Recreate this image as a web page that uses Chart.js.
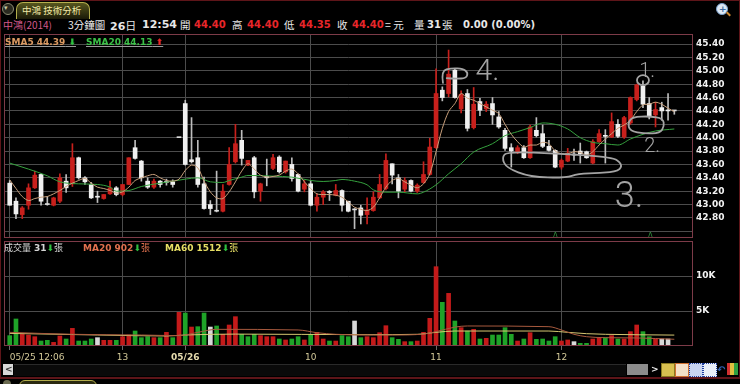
<!DOCTYPE html>
<html lang="zh-Hant">
<head>
<meta charset="UTF-8">
<meta name="viewport" content="width=device-width, initial-scale=1.0">
<title>中鴻 技術分析</title>
<script src="https://cdn.jsdelivr.net/npm/chart.js"></script>
<style>
  html, body { margin: 0; padding: 0; background: #000; }
  body { width: 740px; height: 384px; position: relative; overflow: hidden; font-family: "DejaVu Sans", sans-serif; color: #e8e8e8; }
  .abs { position: absolute; white-space: nowrap; line-height: 14px; }
  .cjk { font-family: "Noto Sans CJK TC", sans-serif; }
  .num { font-family: "DejaVu Sans", sans-serif; font-weight: bold; }
  .red { color: #e8262a; }
  canvas { position: absolute; left: 0; }
  .legend { font-family: "DejaVu Sans", sans-serif; font-weight: bold; font-size: 9px; text-decoration: underline; text-decoration-color: #9a9a9a; }
</style>
</head>
<body>
  <!-- outer frame -->
  <div class="abs" style="left:0;top:0;width:738px;height:376px;border:1px solid #5e1519;border-bottom:none"></div>
  <div class="abs" style="left:0;top:377px;width:740px;height:2px;background:#5e1519"></div>

  <!-- title tab -->
  <div class="abs" style="left:2px;top:3px;width:10px;height:10px;border-radius:50%;border:1px solid #8a8a70;background:#2a2a20"></div>
  <div class="abs" style="left:4px;top:1px;font-size:7px;color:#c8c8a0">▾</div>
  <div class="abs" style="left:16px;top:2px;width:72px;height:16px;border:1px solid #b4ae4c;border-bottom:none;border-radius:7px 7px 0 0;background:linear-gradient(#56561e,#1a1a08)"></div>
  <div class="abs cjk" style="left:22px;top:3px;font-size:9.5px;color:#f2eaa8">中鴻 技術分析</div>
  <div class="abs" style="left:716px;top:3px;width:10px;height:10px;border-radius:50%;border:1px solid #7aa0cc;background:#dce8f4"></div>
  <div class="abs" style="left:719px;top:2px;font-size:9px;font-weight:bold;color:#3a6aa0">+</div>
  <div class="abs" style="left:726px;top:13px;width:5px;height:2px;background:#d08a30;transform:rotate(45deg)"></div>

  <!-- info line -->
  <div class="abs cjk" style="left:3px;top:18px;font-size:10px;color:#d0588a">中鴻(2014)</div>
  <div class="abs cjk" style="left:68px;top:18px;font-size:10.5px">3分鐘圖</div>
  <div class="abs" style="left:110px;top:18px;font-size:11px"><span class="num">26</span><span class="cjk">日</span></div>
  <div class="abs num" style="left:142px;top:18px;font-size:11px">12:54</div>
  <div class="abs cjk" style="left:180px;top:18px;font-size:10.5px">開</div>
  <div class="abs num red" style="left:194px;top:18px;font-size:10px">44.40</div>
  <div class="abs cjk" style="left:232px;top:18px;font-size:10.5px">高</div>
  <div class="abs num red" style="left:247px;top:18px;font-size:10px">44.40</div>
  <div class="abs cjk" style="left:284px;top:18px;font-size:10.5px">低</div>
  <div class="abs num red" style="left:299px;top:18px;font-size:10px">44.35</div>
  <div class="abs cjk" style="left:337px;top:18px;font-size:10.5px">收</div>
  <div class="abs num red" style="left:352px;top:18px;font-size:10px">44.40</div>
  <div class="abs cjk" style="left:385px;top:18px;font-size:10.5px">= 元</div>
  <div class="abs cjk" style="left:414px;top:18px;font-size:10.5px">量</div>
  <div class="abs num" style="left:427px;top:18px;font-size:10px">31</div>
  <div class="abs cjk" style="left:442px;top:18px;font-size:10.5px">張</div>
  <div class="abs num" style="left:463px;top:18px;font-size:10px">0.00 (0.00%)</div>

  <canvas id="price" width="740" height="210" style="top:30px"></canvas>
  <canvas id="volume" width="740" height="130" style="top:238px"></canvas>

  <!-- price legend -->
  <div class="abs legend" style="left:5px;top:35px;color:#dc9a62">SMA5 44.39<span style="color:#2fc040;text-decoration:none"> ⬇</span></div>
  <div class="abs legend" style="left:86px;top:35px;color:#3cc048">SMA20 44.13<span style="color:#e82828"> ⬆</span></div>
  <div class="abs" style="left:553px;top:228px;font-size:8px;color:#2e8a3a">ʌ</div>
  <div class="abs" style="left:648px;top:228px;font-size:8px;color:#2e8a3a">ʌ</div>

  <!-- volume legend -->
  <div class="abs" style="left:4px;top:241px;font-size:9px;color:#d4d4d4"><span class="cjk">成交量</span> <span class="num">31</span><span style="color:#2fc040">⬇</span><span class="cjk">張</span></div>
  <div class="abs" style="left:83px;top:241px;font-size:9px;color:#e0704e"><span class="num">MA20 902</span><span style="color:#2fc040">⬇</span><span class="cjk">張</span></div>
  <div class="abs" style="left:165px;top:241px;font-size:9px;color:#e6de64"><span class="num">MA60 1512</span><span style="color:#2fc040">⬇</span><span class="cjk">張</span></div>

  <!-- scroll bar and tool icons -->
  <div class="abs" style="left:3px;top:364px;width:10px;height:11px;background:#d8d8d8"></div>
  <div class="abs" style="left:5px;top:362px;font-size:9px;font-weight:bold;color:#333">&lt;</div>
  <div class="abs" style="left:14px;top:364px;width:612px;height:11px;background:#0a0a0a;border-top:1px solid #2a2a2a"></div>
  <div class="abs" style="left:627px;top:364px;width:21px;height:11px;background:#8c8c8c"></div>
  <div class="abs" style="left:651px;top:362px;font-size:9px;font-weight:bold;color:#eee">&gt;</div>
  <div class="abs" style="left:661px;top:363px;width:12px;height:12px;background:#d8c050;border:1px solid #8a7a20"></div>
  <div class="abs" style="left:675px;top:363px;width:12px;height:12px;background:#f4e0c8;border:1px solid #d07030"></div>
  <div class="abs" style="left:689px;top:363px;width:12px;height:12px;background:#c8d4f0;border:1px dotted #2040a0"></div>
  <div class="abs" style="left:703px;top:363px;width:12px;height:12px;background:#e8eef8;border:1px dotted #2040a0"></div>
  <div class="abs" style="left:717px;top:363px;width:8px;height:12px;color:#3060b0;font-size:10px;font-weight:bold">↶</div>
  <div class="abs" style="left:727px;top:363px;width:11px;height:12px;background:linear-gradient(90deg,#d03030 0 30%,#e0c040 30% 60%,#30a040 60%)"></div>

  <!-- next tab row -->
  <div class="abs" style="left:3px;top:380px;width:8px;height:8px;border-radius:50%;background:#6a6a50"></div>
  <div class="abs" style="left:19px;top:380px;width:76px;height:8px;border:1px solid #b4ae4c;border-radius:6px 6px 0 0;background:#2a2a10"></div>

<script>
// 3-minute bars, 05/25 12:06 .. 05/26 12:54 (index 0..106)
const xTickIdx = [0, 18, 28, 48, 68, 88, 106];
const xTickText = ['05/25 12:06', '13', '05/26', '10', '11', '12', ''];
const priceTicks = [42.6, 42.8, 43.0, 43.2, 43.4, 43.6, 43.8, 44.0, 44.2, 44.4, 44.6, 44.8, 45.0, 45.2, 45.4];
const volTicks = [5000, 10000];

const open = [
  43.32, 43.05, 42.85, 42.99, 43.25, 43.45, 43.00, 42.99, 43.05, 43.35,
  43.31, 43.70, 43.40, 43.30, 43.12, 43.09, 43.16, 43.25, 43.15, 43.30,
  43.85, 43.65, 43.35, 43.26, 43.35, 43.33, 43.34, 44.00, 44.51, 43.67,
  43.70, 43.31, 43.00, 42.90, 42.90, 43.30, 43.64, 43.96, 43.59, 43.70,
  43.20, 43.42, 43.54, 43.71, 43.49, 43.60, 43.45, 43.23, 43.31, 42.99,
  43.11, 43.19, 43.14, 43.21, 43.05, 42.92, 42.95, 42.85, 42.91, 43.10,
  43.24, 43.61, 43.40, 43.23, 43.36, 43.20, 43.33, 43.45, 43.85, 44.71,
  44.66, 45.01, 44.43, 44.66, 44.15, 44.54, 44.43, 44.51, 44.31, 44.11,
  43.85, 43.78, 43.85, 43.70, 44.11, 44.06, 43.87, 43.81, 43.56, 43.65,
  43.75, 43.80, 43.79, 43.62, 43.94, 44.03, 44.01, 44.20, 44.01, 44.22,
  44.57, 44.77, 44.51, 44.34, 44.45, 44.41, 44.40
];
const high = [
  43.36, 43.10, 42.97, 43.31, 43.50, 43.46, 43.12, 43.11, 43.46, 43.45,
  43.91, 43.71, 43.42, 43.33, 43.20, 43.15, 43.35, 43.27, 43.30, 43.70,
  43.96, 43.66, 43.40, 43.38, 43.36, 43.38, 43.37, 44.00, 44.56, 44.30,
  43.96, 43.41, 43.06, 43.50, 43.30, 43.85, 44.20, 44.11, 43.66, 43.72,
  43.32, 43.68, 43.75, 43.73, 43.65, 43.70, 43.46, 43.36, 43.36, 43.16,
  43.21, 43.21, 43.30, 43.22, 43.05, 42.94, 42.99, 43.10, 43.19, 43.45,
  43.76, 43.61, 43.45, 43.40, 43.37, 43.31, 43.64, 43.99, 45.03, 44.76,
  45.31, 45.03, 44.70, 44.72, 44.75, 44.59, 44.54, 44.60, 44.39, 44.14,
  43.91, 43.88, 43.88, 44.19, 44.30, 44.19, 43.96, 43.82, 43.68, 43.84,
  43.83, 43.92, 43.80, 43.97, 44.12, 44.12, 44.37, 44.27, 44.32, 44.61,
  44.80, 44.85, 44.60, 44.53, 44.53, 44.66, 44.40
];
const low = [
  42.99, 42.79, 42.79, 42.93, 43.24, 42.99, 42.99, 42.98, 43.03, 43.18,
  43.27, 43.38, 43.30, 43.09, 43.03, 43.08, 43.15, 43.13, 43.13, 43.30,
  43.68, 43.35, 43.24, 43.24, 43.26, 43.29, 43.26, 44.00, 43.59, 43.62,
  43.26, 42.93, 42.85, 42.89, 42.89, 43.29, 43.62, 43.59, 43.58, 43.10,
  43.05, 43.28, 43.52, 43.47, 43.47, 43.35, 43.19, 43.19, 42.98, 42.90,
  43.00, 43.06, 43.13, 42.90, 42.89, 42.64, 42.71, 42.71, 42.90, 43.09,
  43.22, 43.31, 43.10, 43.19, 43.19, 43.18, 43.32, 43.44, 43.84, 44.55,
  44.61, 44.59, 44.37, 44.10, 44.13, 44.33, 44.39, 44.20, 44.14, 43.81,
  43.56, 43.76, 43.69, 43.69, 44.01, 43.85, 43.80, 43.55, 43.53, 43.64,
  43.66, 43.62, 43.69, 43.61, 43.93, 43.62, 44.00, 44.00, 43.99, 44.20,
  44.55, 44.45, 44.28, 44.16, 44.26, 44.26, 44.35
];
const close = [
  42.99, 42.86, 42.95, 43.25, 43.44, 43.05, 43.00, 43.10, 43.40, 43.25,
  43.70, 43.40, 43.34, 43.10, 43.11, 43.15, 43.25, 43.15, 43.30, 43.70,
  43.69, 43.40, 43.26, 43.35, 43.30, 43.33, 43.30, 44.00, 43.60, 43.64,
  43.30, 42.94, 42.94, 42.90, 43.20, 43.60, 43.91, 43.69, 43.66, 43.19,
  43.31, 43.40, 43.70, 43.49, 43.65, 43.39, 43.20, 43.31, 42.99, 43.11,
  43.19, 43.18, 43.21, 42.99, 42.90, 42.92, 42.84, 42.92, 43.11, 43.30,
  43.66, 43.44, 43.20, 43.36, 43.20, 43.29, 43.45, 43.86, 44.66, 44.60,
  44.95, 44.60, 44.65, 44.14, 44.50, 44.41, 44.50, 44.34, 44.16, 43.84,
  43.80, 43.85, 43.70, 44.16, 44.03, 43.87, 43.81, 43.56, 43.66, 43.77,
  43.74, 43.76, 43.70, 43.94, 44.06, 44.02, 44.24, 44.02, 44.30, 44.60,
  44.79, 44.50, 44.32, 44.42, 44.40, 44.40, 44.40
];
const sma5 = [
  43.37, 43.24, 43.12, 43.06, 43.09, 43.11, 43.12, 43.16, 43.21, 43.27,
  43.32, 43.36, 43.39, 43.32, 43.26, 43.24, 43.21, 43.17, 43.19, 43.26,
  43.36, 43.40, 43.43, 43.45, 43.40, 43.36, 43.35, 43.38, 43.51, 43.59,
  43.55, 43.35, 43.19, 43.10, 43.09, 43.19, 43.34, 43.50, 43.61, 43.53,
  43.44, 43.41, 43.42, 43.44, 43.50, 43.53, 43.46, 43.34, 43.24, 43.16,
  43.15, 43.15, 43.14, 43.11, 43.04, 42.96, 42.93, 42.91, 42.96, 43.10,
  43.26, 43.36, 43.39, 43.34, 43.29, 43.25, 43.31, 43.46, 43.79, 44.14,
  44.39, 44.51, 44.66, 44.59, 44.56, 44.51, 44.46, 44.41, 44.36, 44.20,
  44.05, 43.94, 43.86, 43.89, 43.89, 43.93, 43.91, 43.80, 43.76, 43.76,
  43.79, 43.78, 43.74, 43.79, 43.89, 43.98, 44.06, 44.14, 44.19, 44.26,
  44.39, 44.49, 44.50, 44.53, 44.50, 44.44, 44.39
];
// [bar, value]
const sma20 = [
  [0, 43.62], [3, 43.53], [6, 43.43], [8, 43.34], [11, 43.31], [14, 43.30], [16, 43.26],
  [17, 43.20], [19, 43.21], [21, 43.27], [24, 43.32], [26, 43.35], [28, 43.38], [30, 43.40],
  [32, 43.34], [34, 43.33], [35, 43.36], [37, 43.41], [38, 43.435], [42, 43.425], [45, 43.41],
  [48, 43.36], [50, 43.345], [52, 43.36], [53, 43.375], [55, 43.35], [57, 43.295], [58, 43.22],
  [60, 43.185], [62, 43.185], [65, 43.16], [66, 43.185], [68, 43.295], [70, 43.46], [72, 43.61],
  [74, 43.785], [77, 43.91], [79, 44.03], [81, 44.09], [83, 44.15], [85, 44.22], [87, 44.20],
  [89, 44.13], [91, 44.00], [93, 43.93], [95, 43.91], [97, 43.89], [99, 43.98], [101, 44.05],
  [103, 44.10], [106, 44.13]
];

const volume = [
  1480, 3860, 1670, 1570, 1330, 710, 810, 520, 1430, 1000,
  2520, 710, 710, 1000, 1190, 810, 810, 810, 1330, 1570,
  2140, 1190, 1330, 1190, 1190, 1950, 1190, 4810, 4710, 2710,
  2760, 4710, 2710, 2860, 1670, 3000, 4190, 1670, 1330, 1670,
  1480, 1330, 1330, 1000, 860, 1000, 1330, 860, 1670, 1950,
  1000, 710, 710, 1480, 1330, 3570, 1190, 1330, 1190, 1900,
  2900, 1190, 950, 620, 620, 710, 1950, 3950, 11330, 6240,
  7520, 3570, 2620, 2140, 2380, 1000, 1100, 1570, 1570, 2620,
  1670, 710, 1000, 1900, 950, 1000, 710, 1330, 710, 860,
  620, 380, 380, 1000, 1100, 1190, 1480, 1000, 1000, 2050,
  3000, 2050, 1330, 1000, 1000, 1000, 31
];
// 1 = up vs previous close, -1 = down, 0 = unchanged
const volDir = [
  -1, -1, 1, 1, 1, -1, -1, 1, 1, -1,
  1, -1, -1, -1, 0, 1, 1, -1, 1, 1,
  -1, -1, -1, 1, -1, 1, -1, 1, -1, 1,
  -1, -1, 0, -1, 1, 1, 1, -1, -1, -1,
  1, 1, 1, -1, 1, -1, -1, 1, -1, 1,
  1, -1, 1, -1, -1, 0, -1, 1, 1, 1,
  1, -1, -1, 1, -1, 1, 1, 1, 1, -1,
  1, -1, 1, -1, 1, -1, 1, -1, -1, -1,
  -1, 1, -1, 1, -1, -1, -1, -1, 1, 1,
  0, -1, -1, 1, 1, -1, 1, -1, 1, 1,
  1, -1, -1, 1, 0, 0, 0
];
const volMa20 = [
  [0, 1950], [10, 1670], [21, 1570], [27, 1480], [30, 1950], [33, 2380], [46, 2290],
  [49, 1900], [52, 1670], [58, 1570], [61, 1570], [66, 1700], [68, 2050], [71, 2700],
  [73, 2860], [86, 2760], [88, 2290], [90, 1670], [92, 1330], [95, 1190], [100, 1150], [106, 960]
];
const volMa60 = [
  [0, 1800], [14, 1570], [25, 1430], [28, 1570], [36, 1700], [57, 1620], [65, 1670],
  [68, 1950], [71, 2140], [86, 2140], [89, 1950], [92, 1760], [95, 1670], [106, 1560]
];

// handwritten marks on the screenshot, in (bar, price) units
const sketchText = [['4.', 74.3, 44.86, 30], ['1.', 100.4, 44.90, 20], ['2.', 101.2, 43.78, 20], ['3.', 96.5, 42.97, 36]];
const sketchBracket = [[69.1, 44.82], [68.8, 45.00], [70.5, 45.04], [72.3, 45.03], [73.1, 44.97], [72.8, 44.89], [71.2, 44.88], [69.7, 44.89]];
const sketchLoop2 = [[104.2, 44.29], [102.1, 44.32], [99.3, 44.31], [98.6, 44.22], [98.9, 44.10], [101.3, 44.06], [103.7, 44.07], [104.4, 44.17]];
const sketchLoop3 = [[79.3, 43.79], [87.8, 43.76], [96.1, 43.71], [97.7, 43.61], [97.2, 43.50], [94.2, 43.47], [90.6, 43.46], [88.7, 43.40], [83.0, 43.41], [79.2, 43.55], [78.5, 43.70]];
const sketchCircle = [101, 44.86];

const RED = '#c8201c', WHITE = '#f0f0f0', GRID = '#4c4c4c', FRAME = '#7d3b48';
const X_MIN = -0.91, X_MAX = 108.98;

const frame = {
  id: 'frame',
  afterDraw(chart) {
    const { ctx, chartArea: a } = chart;
    ctx.save();
    ctx.strokeStyle = FRAME;
    ctx.lineWidth = 1;
    ctx.strokeRect(a.left + 0.5, a.top + 0.5, a.right - a.left - 1, a.bottom - a.top - 1);
    ctx.restore();
  }
};

function smoothPath(ctx, pts, closed) {
  const mid = (a, b) => [(a[0] + b[0]) / 2, (a[1] + b[1]) / 2];
  const n = pts.length;
  ctx.beginPath();
  if (closed) {
    const m = mid(pts[n - 1], pts[0]);
    ctx.moveTo(m[0], m[1]);
    for (let i = 0; i < n; i++) {
      const m2 = mid(pts[i], pts[(i + 1) % n]);
      ctx.quadraticCurveTo(pts[i][0], pts[i][1], m2[0], m2[1]);
    }
  } else {
    ctx.moveTo(pts[0][0], pts[0][1]);
    for (let i = 1; i < n - 1; i++) {
      const m2 = mid(pts[i], pts[i + 1]);
      ctx.quadraticCurveTo(pts[i][0], pts[i][1], m2[0], m2[1]);
    }
    ctx.lineTo(pts[n - 1][0], pts[n - 1][1]);
  }
  ctx.stroke();
}

const sketch = {
  id: 'sketch',
  afterDatasetsDraw(chart) {
    const { ctx, scales: { x, y } } = chart;
    const px = (p) => [x.getPixelForValue(p[0]), y.getPixelForValue(p[1])];
    ctx.save();
    ctx.strokeStyle = '#a4a4a4';
    ctx.fillStyle = '#a4a4a4';
    ctx.lineWidth = 1.8;
    ctx.lineJoin = 'round';
    ctx.lineCap = 'round';
    smoothPath(ctx, sketchBracket.map(px), false);
    smoothPath(ctx, sketchLoop2.map(px), true);
    smoothPath(ctx, sketchLoop3.map(px), true);
    const c = px(sketchCircle);
    ctx.beginPath();
    ctx.ellipse(c[0], c[1], 6, 5, 0, 0, Math.PI * 2);
    ctx.stroke();
    sketchText.forEach(([t, b, p, size]) => {
      const q = px([b, p]);
      ctx.font = '300 ' + size + 'px Roboto, "DejaVu Sans", sans-serif';
      ctx.fillText(t, q[0], q[1]);
    });
    ctx.restore();
  }
};

function fixWidth(w) {
  return (s) => { s.width = w; s.paddingTop = 0; s.paddingBottom = 0; };
}
function fixHeight(h) {
  return (s) => { s.height = h; s.paddingLeft = 0; s.paddingRight = 0; };
}

const candleColor = (i) => close[i] > open[i] ? RED : (close[i] < open[i] ? WHITE : '#dcdcdc');
const wickColor = (i) => close[i] > open[i] ? RED : '#bdbdbd';

new Chart(document.getElementById('price'), {
  type: 'bar',
  data: {
    datasets: [{
      type: 'line',
      data: sma5.map((v, i) => ({ x: i, y: v })),
      borderColor: '#c9a07c',
      borderWidth: 1,
      pointRadius: 0,
      tension: 0.3,
      order: 0
    }, {
      type: 'line',
      data: sma20.map(([i, v]) => ({ x: i, y: v })),
      borderColor: '#35a23e',
      borderWidth: 1,
      pointRadius: 0,
      cubicInterpolationMode: 'monotone',
      order: 0
    }, {
      data: open.map((o, i) => ({ x: i, y: [o, close[i]] })),
      backgroundColor: (c) => candleColor(c.dataIndex),
      barThickness: 4,
      minBarLength: 1,
      grouped: false,
      order: 1
    }, {
      data: open.map((o, i) => ({ x: i, y: [low[i], high[i]] })),
      backgroundColor: (c) => wickColor(c.dataIndex),
      barThickness: 1,
      grouped: false,
      order: 2
    }]
  },
  options: {
    responsive: false,
    devicePixelRatio: 1,
    animation: false,
    layout: { padding: { left: 4, top: 4, right: 0, bottom: 2 } },
    plugins: { legend: { display: false }, tooltip: { enabled: false } },
    scales: {
      x: {
        type: 'linear', min: X_MIN, max: X_MAX, offset: false,
        afterBuildTicks: (s) => { s.ticks = xTickIdx.slice(0, 6).map(v => ({ value: v })); },
        afterFit: fixHeight(0),
        ticks: { display: false, autoSkip: false },
        grid: { offset: false, drawTicks: false, color: GRID },
        border: { display: false }
      },
      y: {
        position: 'right', min: 42.50, max: 45.55,
        afterBuildTicks: (s) => { s.ticks = priceTicks.map(v => ({ value: v })); },
        afterFit: fixWidth(47),
        ticks: {
          autoSkip: false, padding: 3, color: '#f2f2f2',
          font: { family: 'DejaVu Sans', size: 9, weight: 'bold' },
          callback: (v) => v < 42.7 ? '' : Number(v).toFixed(2)
        },
        grid: { drawTicks: false, color: GRID },
        border: { display: false }
      }
    }
  },
  plugins: [frame, sketch]
});

const volColor = (d) => d > 0 ? '#c41a1a' : (d < 0 ? '#1fa328' : '#d8d8d8');

new Chart(document.getElementById('volume'), {
  type: 'bar',
  data: {
    datasets: [{
      type: 'line',
      data: volMa20.map(([i, v]) => ({ x: i, y: v })),
      borderColor: '#a85a3e',
      borderWidth: 1,
      pointRadius: 0,
      cubicInterpolationMode: 'monotone',
      order: 0
    }, {
      type: 'line',
      data: volMa60.map(([i, v]) => ({ x: i, y: v })),
      borderColor: '#d6c872',
      borderWidth: 1,
      pointRadius: 0,
      cubicInterpolationMode: 'monotone',
      order: 0
    }, {
      data: volume.map((v, i) => ({ x: i, y: v })),
      backgroundColor: (c) => volColor(volDir[c.dataIndex]),
      barThickness: 4,
      grouped: false,
      order: 1
    }]
  },
  options: {
    responsive: false,
    devicePixelRatio: 1,
    animation: false,
    layout: { padding: { left: 4, top: 3, right: 0, bottom: 0 } },
    plugins: { legend: { display: false }, tooltip: { enabled: false } },
    scales: {
      x: {
        type: 'linear', min: X_MIN, max: X_MAX, offset: false,
        afterBuildTicks: (s) => { s.ticks = xTickIdx.map(v => ({ value: v })); },
        afterFit: fixHeight(22),
        ticks: {
          autoSkip: false, maxRotation: 0, align: 'inner', padding: 2,
          color: (c) => c.tick && c.tick.value === 28 ? '#e6dcae' : '#d2c898',
          font: (c) => ({ family: 'DejaVu Sans', size: 9, weight: c.tick && c.tick.value === 28 ? 'bold' : 'normal' }),
          callback: (v) => { const k = xTickIdx.indexOf(v); return k < 0 ? '' : xTickText[k]; }
        },
        grid: {
          offset: false, drawTicks: true, tickLength: 4,
          color: (c) => c.tick && c.tick.value !== 106 ? GRID : 'transparent',
          tickColor: (c) => c.tick && c.tick.value !== 106 ? '#6a6a6a' : 'transparent'
        },
        border: { display: false }
      },
      y: {
        position: 'right', min: 0, max: 15000,
        afterBuildTicks: (s) => { s.ticks = volTicks.map(v => ({ value: v })); },
        afterFit: fixWidth(47),
        ticks: {
          autoSkip: false, padding: 3, color: '#f2f2f2',
          font: { family: 'DejaVu Sans', size: 9, weight: 'bold' },
          callback: (v) => (v / 1000) + 'K'
        },
        grid: { drawTicks: false, color: GRID },
        border: { display: false }
      }
    }
  },
  plugins: [frame]
});
</script>
</body>
</html>
